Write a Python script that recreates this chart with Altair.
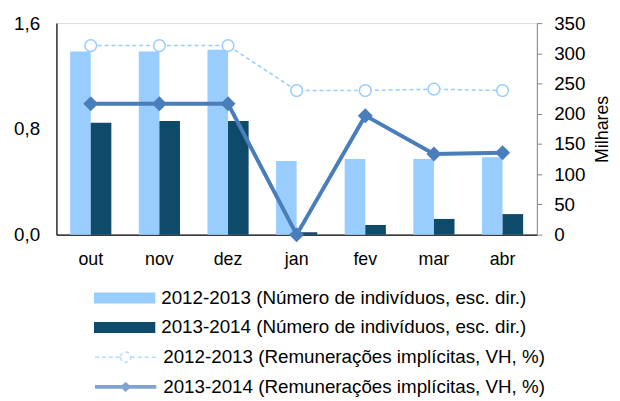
import altair as alt
import pandas as pd

months = ["out", "nov", "dez", "jan", "fev", "mar", "abr"]

bar_labels = [
    "2012-2013 (Número de indivíduos, esc. dir.)",
    "2013-2014 (Número de indivíduos, esc. dir.)",
]
line_labels = [
    "2012-2013 (Remunerações implícitas, VH, %)",
    "2013-2014 (Remunerações implícitas, VH, %)",
]

ind_1213 = [303, 303, 306, 122, 125, 125, 128]
ind_1314 = [185, 188, 188, 4, 16, 26, 34]
rem_1213 = [1.43, 1.43, 1.43, 1.09, 1.09, 1.10, 1.09]
rem_1314 = [0.99, 0.99, 0.99, 0.00, 0.90, 0.61, 0.62]

left_ticks = [0, 0.8, 1.6]
right_ticks = [0, 50, 100, 150, 200, 250, 300, 350]

bar_colors = ["#99CCFF", "#0E4B6B"]
line_colors = ["#99CCFF", "#4A7EBB"]

FONT = "Liberation Sans"
FS = 19

bars_df = pd.DataFrame(
    {"mes": months * 2,
     "serie": [bar_labels[0]] * 7 + [bar_labels[1]] * 7,
     "valor": ind_1213 + ind_1314}
)
rem_df = pd.DataFrame(
    {"mes": months * 2,
     "serie": [line_labels[0]] * 7 + [line_labels[1]] * 7,
     "taxa": rem_1213 + rem_1314}
)

x_enc = alt.X(
    "mes:N", sort=months,
    scale=alt.Scale(paddingInner=0.4, paddingOuter=0.2),
    axis=alt.Axis(title=None, labelAngle=0, ticks=False, domainColor="black",
                  domainWidth=1.2, labelFontSize=18, labelPadding=16,
                  labelColor="black", labelFont=FONT),
)

y_right = alt.Y(
    "valor:Q",
    scale=alt.Scale(domain=[0, 350]),
    axis=alt.Axis(orient="right", values=right_ticks, grid=False,
                  tickSize=5, tickColor="#868686", domainColor="#868686",
                  labelPadding=12, labelFontSize=FS, labelColor="black",
                  labelFont=FONT, title="Milhares", titleFontSize=18,
                  titleFontWeight="normal", titleFont=FONT, titleColor="black",
                  titleAngle=270, titleBaseline="top", titlePadding=9),
)

y_left = alt.Y(
    "taxa:Q",
    scale=alt.Scale(domain=[0, 1.6]),
    axis=alt.Axis(orient="left", values=left_ticks, grid=False, ticks=False,
                  domainColor="black", domainWidth=1.2,
                  labelExpr="replace(format(datum.value, '.1f'), '.', ',')",
                  labelPadding=17, labelFontSize=FS, labelColor="black",
                  labelFont=FONT, title=None),
)

rect_path = "M-1,-0.18H1V0.18H-1Z"
circle_path = ("M-1,0H-0.17M0.17,0H1M-0.17,0A0.17,0.17,0,1,0,0.17,0"
               "A0.17,0.17,0,1,0,-0.17,0")
diamond_path = "M-1,0H1M-0.08,0L0,-0.08L0.08,0L0,0.08Z"

legend_common = dict(
    orient="none", direction="vertical", title=None, labelFont=FONT,
    labelFontSize=FS, labelColor="black", labelLimit=600, symbolSize=3844,
    clipHeight=20, rowPadding=10, labelOffset=5, padding=0, legendX=37,
)

legend_a = alt.Legend(symbolType=rect_path, legendY=268, **legend_common)
legend_b = alt.Legend(legendY=328, **legend_common)

bars = alt.Chart(bars_df).mark_bar().encode(
    x=x_enc,
    xOffset=alt.XOffset("serie:N", sort=bar_labels),
    y=y_right,
    color=alt.Color("serie:N", scale=alt.Scale(domain=bar_labels, range=bar_colors),
                    legend=legend_a),
)

rem = alt.Chart(rem_df)

line1 = rem.transform_filter(alt.datum.serie == line_labels[0]).mark_line(
    color=line_colors[0], strokeDash=[4, 3], strokeWidth=1.5
).encode(x=x_enc, y=y_left)
pts1 = rem.transform_filter(alt.datum.serie == line_labels[0]).mark_point(
    shape="circle", size=140, filled=True, fill="white", stroke=line_colors[0],
    strokeWidth=1.5, opacity=1
).encode(x=x_enc, y=y_left)
line2 = rem.transform_filter(alt.datum.serie == line_labels[1]).mark_line(
    color=line_colors[1], strokeWidth=4
).encode(x=x_enc, y=y_left)
pts2 = rem.transform_filter(alt.datum.serie == line_labels[1]).mark_point(
    shape="diamond", size=230, filled=True, color=line_colors[1], opacity=1
).encode(x=x_enc, y=y_left)

carrier = rem.transform_filter("false").mark_point().encode(
    stroke=alt.Stroke("serie:N", scale=alt.Scale(domain=line_labels, range=line_colors),
                      legend=legend_b),
    strokeDash=alt.StrokeDash("serie:N",
                              scale=alt.Scale(domain=line_labels, range=[[4, 3], [1, 0]]),
                              legend=legend_b),
    strokeWidth=alt.StrokeWidth("serie:N",
                                scale=alt.Scale(domain=line_labels, range=[1.5, 4]),
                                legend=legend_b),
    shape=alt.Shape("serie:N",
                    scale=alt.Scale(domain=line_labels, range=[circle_path, diamond_path]),
                    legend=legend_b),
)

lines = alt.layer(line1, line2, pts1, pts2, carrier)

chart = alt.layer(bars, lines).resolve_scale(y="independent").properties(
    width=486, height=214,
    padding={"left": 5, "top": 4, "right": 0, "bottom": 0},
).configure_view(stroke=None).configure(font=FONT)

chart.save("out.html", embed_options={"renderer": "svg", "actions": False})
